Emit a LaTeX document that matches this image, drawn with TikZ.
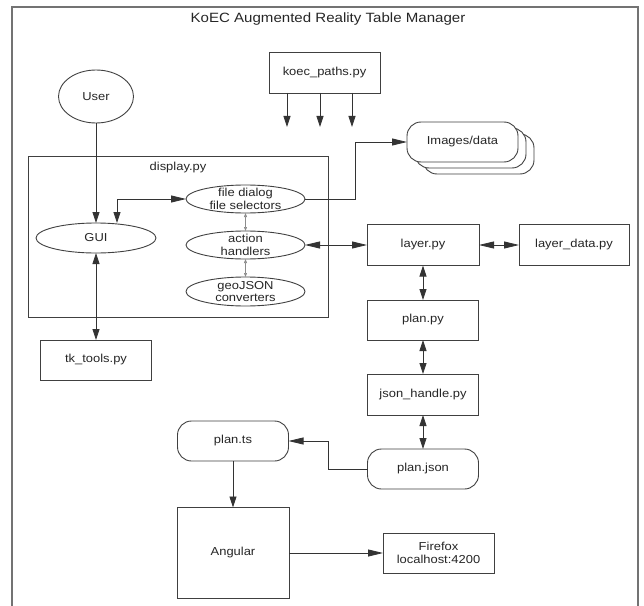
\documentclass[tikz,border=0pt]{standalone}
\usepackage{fontspec}
\setmainfont{Liberation Sans}[FakeStretch=1.12]
\usetikzlibrary{arrows.meta,shapes.geometric}
\tikzset{
  vtip/.tip={Triangle[length=11bp,width=7bp]},
  htip/.tip={Triangle[length=15bp,width=7bp]},
  stip/.tip={Triangle[length=4bp,width=3bp]}
}
\begin{document}
\begin{tikzpicture}[x=1bp,y=-1bp,
  every node/.style={font=\fontsize{11.6}{12.5}\selectfont, inner sep=0pt, outer sep=0pt, text=black!85},
  box/.style={draw=black!75, line width=0.9bp, fill=white, rectangle, minimum width=111bp, minimum height=41bp},
  rbox/.style={box, rounded corners=14bp},
  oval/.style={draw=black!75, line width=0.9bp, fill=white, ellipse, minimum width=119bp, minimum height=28bp},
  lbl/.style={align=center},
  con/.style={draw=black!80, line width=0.8bp},
  small/.style={draw=black!45, line width=0.6bp, stip-stip},
  frame/.style={draw=black!55, line width=1.2bp}
]
\useasboundingbox (0,0) rectangle (644,606);
\draw[frame] (12,606) -- (12,7) -- (638,7) -- (638,606);
\node[font=\fontsize{13.5}{14}\selectfont] (title) at (328,19) {KoEC Augmented Reality Table Manager};

% display.py container
\node[draw=black!75, line width=0.9bp, minimum width=300bp, minimum height=161bp] (disp) at (178,236.5) {};
\node (displbl) at (178,168) {display.py};

% nodes
\node[box] (koec) at (324.5,72.5) {koec\_paths.py};
\node[draw=black!75, line width=0.9bp, ellipse, minimum width=75bp, minimum height=53bp] (user) at (96,96.5) {User};
\node[oval, minimum width=120bp, minimum height=30bp] (gui) at (96,238) {GUI};
\node[oval, label={[lbl]center:file dialog\\file selectors}] (fd) at (245.5,199) {};
\node[oval, label={[lbl]center:action\\handlers}] (ah) at (245.5,245) {};
\node[oval, minimum height=29bp, label={[lbl]center:geoJSON\\converters}] (geo) at (245.5,291.5) {};
\node[box, minimum height=40bp] (tk) at (96,360) {tk\_tools.py};

\node[rbox, minimum height=40bp] (img3) at (478.5,154) {};
\node[rbox, minimum height=40bp] (img2) at (470.5,148) {};
\node[rbox, minimum height=40bp] (img) at (462.5,142) {Images/data};

\node[box, minimum width=112bp] (layer) at (423,245) {layer.py};
\node[box, minimum width=110bp] (ld) at (574,245) {layer\_data.py};
\node[box, minimum height=40bp] (plan) at (423,320) {plan.py};
\node[box] (jh) at (423,394.5) {json\_handle.py};
\node[rbox, minimum height=40bp] (pj) at (423,469) {plan.json};
\node[rbox, minimum height=40bp] (pts) at (233,441) {plan.ts};
\node[box, minimum width=112bp, minimum height=91bp] (ang) at (233,553) {Angular};
\node[box, minimum height=40bp, align=center] (ff) at (438.5,553) {Firefox\\localhost:4200};

% koec_paths arrows
\coordinate (k1) at (287,127);
\coordinate (k2) at (320,127);
\coordinate (k3) at (352,127);
\draw[con,-vtip] (koec.south -| k1) -- (k1);
\draw[con,-vtip] (koec.south -| k2) -- (k2);
\draw[con,-vtip] (koec.south -| k3) -- (k3);

% connectors
\draw[con,-vtip] (user) -- (gui);
\draw[con,vtip-htip] ([xshift=21bp]gui.north) |- (fd.west);
\draw[con,vtip-vtip] (gui) -- (tk);
\draw[small] (fd) -- (ah);
\draw[small] (ah) -- (geo);
\draw[con,-htip] (fd.east) -- ++(50,0) |- (img.west);
\draw[con,htip-htip] (ah) -- (layer);
\draw[con,htip-htip] (layer) -- (ld);
\draw[con,vtip-vtip] (layer) -- (plan);
\draw[con,vtip-vtip] (plan) -- (jh);
\draw[con,vtip-vtip] (jh) -- (pj);
\draw[con,-htip] (pj.west) -- ++(-39,0) |- (pts.east);
\draw[con,-vtip] (pts) -- (ang);
\draw[con,-htip] (ang) -- (ff);
\end{tikzpicture}
\end{document}
